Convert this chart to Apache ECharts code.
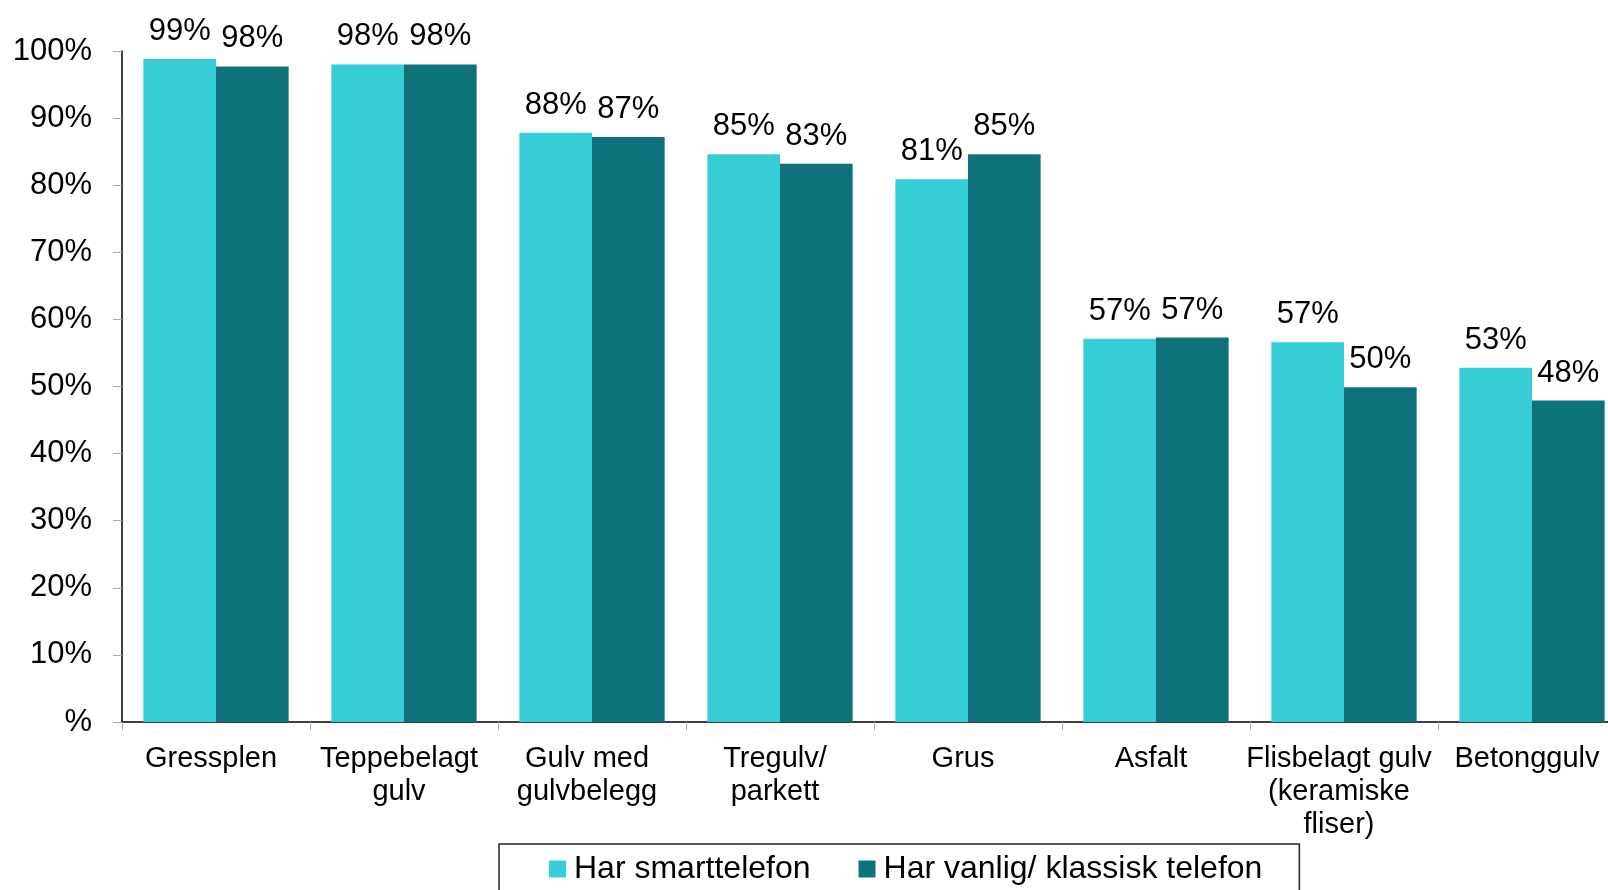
<!DOCTYPE html>
<html>
<head>
<meta charset="utf-8">
<title>Gulvtyper</title>
<script src="https://cdn.jsdelivr.net/npm/echarts@6/dist/echarts.min.js"></script>
<style>
  html, body { margin: 0; padding: 0; background: #fff; }
  #chart { width: 1608px; height: 890px; }
</style>
</head>
<body>
<div id="chart"></div>
<script>
  // kategorier og verdier (lest av bildet)
  const categories = [
    'Gressplen', 'Teppebelagt\ngulv', 'Gulv med\ngulvbelegg', 'Tregulv/\nparkett',
    'Grus', 'Asfalt', 'Flisbelagt gulv\n(keramiske\nfliser)', 'Betonggulv'
  ];
  const smartValues = [98.8, 98.0, 87.8, 84.6, 80.9, 57.1, 56.6, 52.8];
  const classicValues = [97.7, 98.0, 87.2, 83.2, 84.6, 57.3, 49.9, 47.9];
  const seriesNames = ['Har smarttelefon', 'Har vanlig/ klassisk telefon'];

  const font = '"Liberation Sans", Arial, sans-serif';

  let chart = echarts.init(document.getElementById('chart'));

  function barLabel() {
    return {
      show: true,
      position: 'top',
      distance: 12,
      fontSize: 31,
      color: '#000',
      fontFamily: font,
      formatter: function (p) {
        return Math.round(p.value) + '%';
      }
    };
  }

  chart.setOption({
    animation: false,
    // aksen går litt utenfor bildet til høyre, som i originalen
    grid: {
      left: 122,
      top: 51,
      width: 1504,
      bottom: 168,
      outerBoundsMode: 'none'
    },
    legend: {
      data: seriesNames,
      icon: 'rect',
      left: 499,
      top: 844,
      itemWidth: 17,
      itemHeight: 17,
      itemGap: 48,
      borderColor: '#222',
      borderWidth: 1.5,
      padding: [9, 37, 40, 50],
      textStyle: {
        fontSize: 32,
        color: '#000',
        fontFamily: font,
        padding: [0, 0, 0, 3]
      }
    },
    xAxis: {
      type: 'category',
      data: categories,
      axisLine: { lineStyle: { color: '#000', width: 1.5 } },
      axisTick: { show: true, length: 8, lineStyle: { color: '#aaa' } },
      axisLabel: {
        interval: 0,
        margin: 20,
        padding: [0, 10, 0, 0],
        fontSize: 29,
        lineHeight: 33,
        color: '#000',
        fontFamily: font
      }
    },
    yAxis: {
      type: 'value',
      min: 0,
      max: 100,
      interval: 10,
      splitLine: { show: false },
      axisLine: { show: true, lineStyle: { color: '#000', width: 1.5 } },
      axisTick: { show: true, length: 9, lineStyle: { color: '#aaa' } },
      axisLabel: {
        margin: 30,
        fontSize: 31,
        color: '#000',
        fontFamily: font,
        formatter: function (v) {
          return v === 0 ? '%' : v + '%';
        }
      }
    },
    series: [
      {
        name: seriesNames[0],
        type: 'bar',
        data: smartValues,
        barGap: '0%',
        barCategoryGap: '22.7%',
        itemStyle: { color: '#37CDD5' },
        label: barLabel()
      },
      {
        name: seriesNames[1],
        type: 'bar',
        data: classicValues,
        barGap: '0%',
        barCategoryGap: '22.7%',
        itemStyle: { color: '#0E727B' },
        label: barLabel()
      }
    ]
  });
</script>
</body>
</html>
